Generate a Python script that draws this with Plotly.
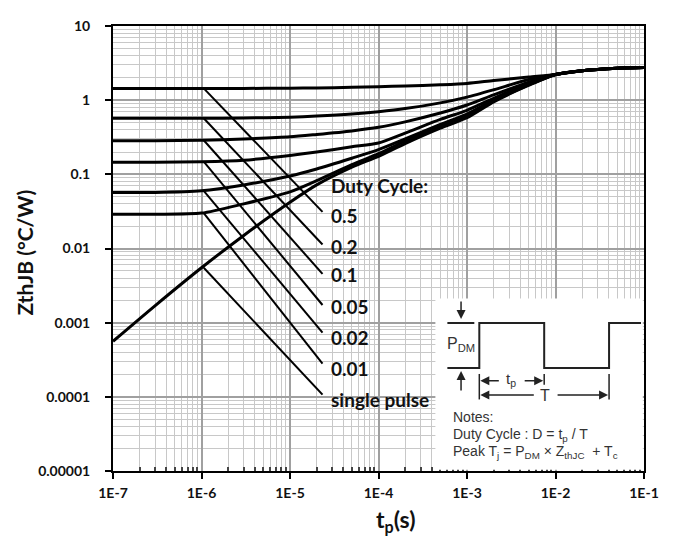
import numpy as np
import plotly.graph_objects as go

# ---------------- data ----------------
t = [1e-7, 3e-7, 1e-6, 3e-6, 1e-5, 2e-5, 5e-5, 1e-4, 2e-4, 5e-4, 1e-3, 2e-3, 5e-3, 1e-2, 2e-2, 5e-2, 1e-1]
z_05 = [1.44, 1.44, 1.44, 1.44, 1.45, 1.46, 1.49, 1.52, 1.55, 1.61, 1.68, 1.84, 2.05, 2.22, 2.5, 2.7, 2.76]
z_02 = [0.57, 0.57, 0.57, 0.575, 0.59, 0.61, 0.65, 0.70, 0.77, 0.92, 1.1, 1.38, 1.9, 2.22, 2.5, 2.7, 2.76]
z_01 = [0.284, 0.284, 0.288, 0.30, 0.32, 0.345, 0.385, 0.43, 0.51, 0.67, 0.86, 1.18, 1.75, 2.22, 2.5, 2.7, 2.76]
z_005 = [0.146, 0.146, 0.148, 0.155, 0.18, 0.2, 0.235, 0.265, 0.36, 0.55, 0.73, 1.06, 1.68, 2.22, 2.5, 2.7, 2.76]
z_002 = [0.057, 0.057, 0.06, 0.072, 0.095, 0.118, 0.165, 0.215, 0.3, 0.47, 0.65, 1.0, 1.64, 2.22, 2.5, 2.7, 2.76]
z_001 = [0.029, 0.029, 0.03, 0.04, 0.058, 0.082, 0.135, 0.19, 0.28, 0.44, 0.61, 0.97, 1.61, 2.22, 2.5, 2.7, 2.76]
z_single = [0.00056, 0.0017, 0.0055, 0.015, 0.042, 0.072, 0.125, 0.175, 0.26, 0.42, 0.58, 0.95, 1.59, 2.22, 2.5, 2.7, 2.76]

series_names = ["0.5", "0.2", "0.1", "0.05", "0.02", "0.01", "single pulse"]
series_values = [z_05, z_02, z_01, z_005, z_002, z_001, z_single]

# leader lines: from curve at t=1e-6 down to label
leader_t = [1.06e-6, 2.33e-5]
leader_start_z = [1.44, 0.57, 0.288, 0.148, 0.06, 0.03, 0.0055]
leader_end_z = [0.0312, 0.0113, 0.00455, 0.00173, 0.000733, 0.00028, 0.000107]
label_t = 2.75e-5
label_z = [0.0282, 0.01075, 0.00446, 0.00165, 0.00063, 0.00024, 0.0000927]
title_label = "Duty Cycle:"
title_label_z = 0.0703

x_tick_vals = [1e-7, 1e-6, 1e-5, 1e-4, 1e-3, 1e-2, 1e-1]
x_tick_text = ["1E-7", "1E-6", "1E-5", "1E-4", "1E-3", "1E-2", "1E-1"]
y_tick_vals = [1e-5, 1e-4, 1e-3, 1e-2, 1e-1, 1, 10]
y_tick_text = ["0.00001", "0.0001", "0.001", "0.01", "0.1", "1", "10"]

# ---------------- layout geometry (picture pixels) ----------------
W, H = 676, 544
OFF = 8  # default page body margin
L, R, T, B = 113, 645, 17, 471

def px(x):
    return (x - L) / (R - L)

def py(y):
    return (B - y) / (B - T)

fig = go.Figure()

for name, z in zip(series_names, series_values):
    fig.add_trace(go.Scatter(x=t, y=z, mode="lines", name=name,
                             line=dict(color="black", width=3, shape="spline", smoothing=0.7),
                             showlegend=False, hoverinfo="skip"))

for zs, ze in zip(leader_start_z, leader_end_z):
    fig.add_trace(go.Scatter(x=leader_t, y=[zs, ze], mode="lines",
                             line=dict(color="black", width=2),
                             showlegend=False, hoverinfo="skip"))

lab_font = dict(family="Lato", size=19, color="#111", weight="bold")
annotations = []
annotations.append(dict(x=np.log10(label_t), y=np.log10(title_label_z), xref="x", yref="y",
                        text=title_label, showarrow=False, xanchor="left", yanchor="middle",
                        font=lab_font))
for name, lz in zip(series_names, label_z):
    annotations.append(dict(x=np.log10(label_t), y=np.log10(lz), xref="x", yref="y",
                            text=name, showarrow=False, xanchor="left", yanchor="middle",
                            font=lab_font))

# axis titles
annotations.append(dict(x=px(24), y=py(248), xref="paper", yref="paper",
                        xanchor="center", yanchor="middle",
                        text="ZthJB (°C/W)", textangle=-90, showarrow=False,
                        font=dict(family="Lato", size=21, color="#111", weight="bold")))
annotations.append(dict(x=px(397), y=py(522), xref="paper", yref="paper",
                        xanchor="center", yanchor="middle",
                        text="t<sub>p</sub>(s)", showarrow=False,
                        font=dict(family="Lato", size=23, color="#111", weight="bold")))

# ---------------- inset diagram ----------------
ins_col = "#222"
ins_font = dict(family="Liberation Sans", size=14, color="#333")
shapes = []
shapes.append(dict(type="rect", xref="paper", yref="paper",
                   x0=px(436), x1=px(643.8), y0=py(469.8), y1=py(295),
                   fillcolor="white", line=dict(width=0), layer="above"))
shapes.append(dict(type="line", xref="paper", yref="paper",
                   x0=px(448), x1=px(475), y0=py(320), y1=py(320),
                   line=dict(color=ins_col, width=2), layer="above"))
wave = [(448, 366), (480, 366), (480, 320), (545, 320), (545, 366), (610, 366), (610, 320), (642, 320)]
path = "M " + " L ".join(f"{px(a):.5f},{py(b):.5f}" for a, b in wave)
shapes.append(dict(type="path", xref="paper", yref="paper", path=path,
                   line=dict(color=ins_col, width=2), layer="above"))
for xx, y0, y1 in [(480, 372, 398), (545, 372, 383), (610, 372, 398)]:
    shapes.append(dict(type="line", xref="paper", yref="paper",
                       x0=px(xx), x1=px(xx), y0=py(y0), y1=py(y1),
                       line=dict(color=ins_col, width=1.5), layer="above"))

def arrow(hx, hy, tx, ty):
    return dict(x=px(hx), y=py(hy), xref="paper", yref="paper",
                ax=tx - hx, ay=ty - hy, axref="pixel", ayref="pixel",
                text="", showarrow=True, arrowhead=2, arrowsize=1.2,
                arrowwidth=1.5, arrowcolor=ins_col,
                xanchor="center", yanchor="middle")

annotations += [
    arrow(461.7, 316, 461.7, 297),
    arrow(461.7, 369, 461.7, 390),
    arrow(481, 379, 501, 379),
    arrow(544, 379, 524, 379),
    arrow(481, 393.5, 536, 393.5),
    arrow(609, 393.5, 557, 393.5),
]
annotations.append(dict(x=px(512), y=py(378), xref="paper", yref="paper", text="t<sub>p</sub>",
                        xanchor="center", yanchor="middle", showarrow=False,
                        font=dict(family="Liberation Sans", size=15, color="#333")))
annotations.append(dict(x=px(546), y=py(394), xref="paper", yref="paper", text="T",
                        xanchor="center", yanchor="middle", showarrow=False,
                        font=dict(family="Liberation Sans", size=16, color="#333")))
annotations.append(dict(x=px(462), y=py(342), xref="paper", yref="paper", text="P<sub>DM</sub>",
                        xanchor="center", yanchor="middle", showarrow=False,
                        font=dict(family="Liberation Sans", size=16, color="#333")))
notes = ["Notes:", "Duty Cycle : D = t<sub>p</sub> / T",
         "Peak T<sub>j</sub> = P<sub>DM</sub> × Z<sub>thJC</sub>  + T<sub>c</sub>"]
for txt, yy in zip(notes, [416, 434, 452]):
    annotations.append(dict(x=px(452), y=py(yy), xref="paper", yref="paper", text=txt,
                            showarrow=False, xanchor="left", yanchor="middle", font=ins_font))

minor_x = [k * 10.0 ** e for e in range(-7, -1) for k in range(2, 10)]
minor_y = [k * 10.0 ** e for e in range(-5, 1) for k in range(2, 10)]
tick_font = dict(family="Lato", size=14, color="#111", weight="bold")

fig.update_layout(
    width=W - 2 * OFF, height=H - 2 * OFF,
    margin=dict(l=L - OFF, r=W - OFF - R, t=T - OFF, b=H - OFF - B),
    paper_bgcolor="white", plot_bgcolor="white",
    shapes=shapes, annotations=annotations,
    xaxis=dict(type="log", range=[-7, -1], tickvals=x_tick_vals, ticktext=x_tick_text,
               showline=True, mirror=True, linecolor="black", linewidth=2,
               ticks="outside", ticklen=6, tickwidth=2, tickcolor="black",
               showgrid=True, gridcolor="#a0a0a0", gridwidth=1.5,
               ticklabelstandoff=2, tickfont=tick_font, zeroline=False,
               minor=dict(tickvals=minor_x, showgrid=True, gridcolor="#c8c8c8", gridwidth=1,
                          ticks="inside", ticklen=4, tickcolor="#444")),
    yaxis=dict(type="log", range=[-5, 1], tickvals=y_tick_vals, ticktext=y_tick_text,
               showline=True, mirror=True, linecolor="black", linewidth=2,
               ticks="outside", ticklen=6, tickwidth=2, tickcolor="black",
               showgrid=True, gridcolor="#a0a0a0", gridwidth=1.5,
               ticklabelstandoff=12, tickfont=tick_font, zeroline=False,
               minor=dict(tickvals=minor_y, showgrid=True, gridcolor="#c8c8c8", gridwidth=1)),
)

fig.write_html("out.html")
